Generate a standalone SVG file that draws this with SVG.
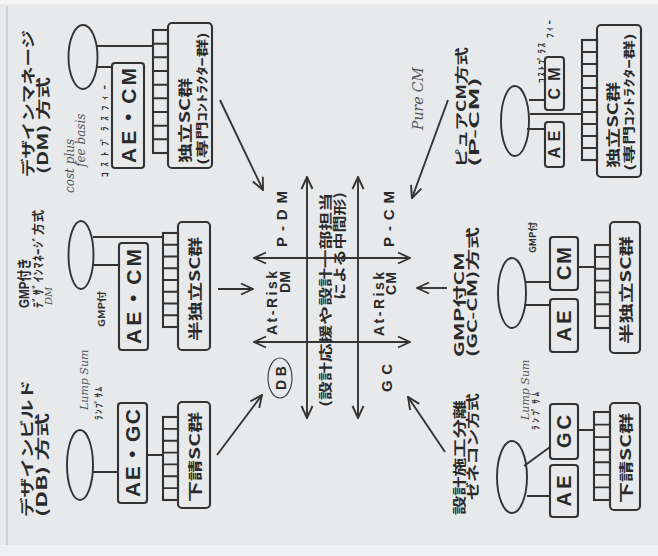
<svg xmlns="http://www.w3.org/2000/svg" width="658" height="556" viewBox="0 0 658 556">
<defs>
<style>
.ln{stroke:#333;stroke-width:1.9;fill:none}
.bx{fill:none;stroke:#333;stroke-width:2.1}
.el{fill:none;stroke:#333;stroke-width:1.9}
.t{font-family:"Noto Sans CJK JP","Noto Sans CJK SC",sans-serif;font-weight:bold;fill:#2a2a2a;dominant-baseline:central}
.l{font-family:"Liberation Sans","Noto Sans CJK JP",sans-serif;font-weight:bold;fill:#2a2a2a;dominant-baseline:central}
.s{font-family:"Noto Sans CJK JP",sans-serif;font-weight:bold;fill:#333;dominant-baseline:central;font-size:9px}
.hw{font-family:"DejaVu Serif",serif;font-style:italic;fill:#555;dominant-baseline:central}
</style>
<marker id="ah" viewBox="0 0 14 14" refX="13" refY="7" markerWidth="14" markerHeight="14" markerUnits="userSpaceOnUse" orient="auto-start-reverse">
<path d="M1 1.5 L13 7 L1 12.5" fill="none" stroke="#333" stroke-width="1.9"/>
</marker>
</defs>
<rect x="0" y="0" width="658" height="556" fill="#e7e9eb"/>
<rect x="0" y="0" width="658" height="4" fill="#f4f4f4"/>
<rect x="0" y="545" width="658" height="11" fill="#eef0f1"/>
<line x1="7" y1="6" x2="7" y2="545" stroke="#c4c6c8" stroke-width="1.5"/>

<!-- DM -->
<g id="dm">
<text class="t" font-size="14" transform="translate(27 177) rotate(-90)" textLength="147" lengthAdjust="spacingAndGlyphs">デザインマネージ</text>
<text class="t" font-size="14" transform="translate(42 174) rotate(-90)" textLength="97" lengthAdjust="spacingAndGlyphs">(DM) 方式</text>
<text class="hw" font-size="12" transform="translate(70 193) rotate(-90)">cost plus</text>
<text class="hw" font-size="12" transform="translate(81 167) rotate(-90)">fee basis</text>
<text class="s" transform="translate(104 177) rotate(-90)" textLength="92" lengthAdjust="spacing">ｺｽﾄﾌﾟﾗｽﾌｨｰ</text>
<ellipse class="el" cx="83" cy="57" rx="14.5" ry="32"/>
<path class="ln" d="M97 46H153 M96 67H112"/>
<rect class="bx" x="112" y="63" width="32" height="105" rx="3"/>
<text class="l" font-size="21" text-anchor="middle" transform="translate(128 115.5) rotate(-90)" textLength="95" lengthAdjust="spacing">AE・CM</text>
<rect class="bx" x="153" y="30" width="15" height="123"/>
<path class="ln" d="M153 43.7h15M153 57.3h15M153 71h15M153 84.7h15M153 98.3h15M153 112h15M153 125.7h15M153 139.3h15"/>
<rect class="bx" x="168" y="23" width="44" height="145" rx="4"/>
<text class="t" font-size="14" transform="translate(184 163) rotate(-90)" textLength="85" lengthAdjust="spacingAndGlyphs">独立SC群</text>
<text class="t" font-size="12" transform="translate(201 165) rotate(-90)" textLength="133" lengthAdjust="spacingAndGlyphs">(専門ｺﾝﾄﾗｸﾀｰ群)</text>
</g>

<!-- GMP DM -->
<g id="gmp-dm">
<text class="l" font-size="14" transform="translate(24 308) rotate(-90)" textLength="50" lengthAdjust="spacingAndGlyphs">GMP付き</text>
<text class="t" font-size="12" transform="translate(37 308) rotate(-90)" textLength="98" lengthAdjust="spacing">ﾃﾞｻﾞｲﾝﾏﾈｰｼﾞ方式</text>
<text class="hw" font-size="10" transform="translate(48 305) rotate(-90)">DM</text>
<ellipse class="el" cx="81" cy="255" rx="12.5" ry="34"/>
<path class="ln" d="M93 237H163 M93 265H119"/>
<text class="s" transform="translate(101 327) rotate(-90)" textLength="36" lengthAdjust="spacingAndGlyphs">GMP付</text>
<rect class="bx" x="119" y="243" width="29" height="107" rx="3"/>
<text class="l" font-size="21" text-anchor="middle" transform="translate(133.5 296.5) rotate(-90)" textLength="95" lengthAdjust="spacing">AE・CM</text>
<rect class="bx" x="163" y="233" width="15" height="94"/>
<path class="ln" d="M163 244.75h15M163 256.5h15M163 268.25h15M163 280h15M163 291.75h15M163 303.5h15M163 315.25h15"/>
<rect class="bx" x="178" y="222" width="32" height="128" rx="4"/>
<text class="t" font-size="14" transform="translate(194 341) rotate(-90)" textLength="104" lengthAdjust="spacingAndGlyphs">半独立SC群</text>
</g>

<!-- DB -->
<g id="db">
<text class="t" font-size="14" transform="translate(26 517) rotate(-90)" textLength="137" lengthAdjust="spacingAndGlyphs">デザインビルド</text>
<text class="t" font-size="14" transform="translate(41 517) rotate(-90)" textLength="104" lengthAdjust="spacingAndGlyphs">(DB) 方式</text>
<text class="hw" font-size="11" transform="translate(84 410) rotate(-90)">Lump Sum</text>
<text class="s" transform="translate(98 420) rotate(-90)" textLength="33" lengthAdjust="spacing">ﾗﾝﾌﾟｻﾑ</text>
<ellipse class="el" cx="80" cy="465" rx="13" ry="35"/>
<path class="ln" d="M93 472H118 M147 455H163"/>
<rect class="bx" x="118" y="403" width="29" height="100" rx="3"/>
<text class="l" font-size="21" text-anchor="middle" transform="translate(132.5 453) rotate(-90)" textLength="88" lengthAdjust="spacing">AE・GC</text>
<rect class="bx" x="163" y="417" width="15" height="83"/>
<path class="ln" d="M163 428.9h15M163 440.7h15M163 452.6h15M163 464.4h15M163 476.3h15M163 488.1h15"/>
<rect class="bx" x="178" y="402" width="32" height="106" rx="4"/>
<text class="t" font-size="14" transform="translate(194 502) rotate(-90)" textLength="90" lengthAdjust="spacingAndGlyphs">下請SC群</text>
</g>

<!-- center -->
<g id="center">
<text class="l" font-size="15" text-anchor="middle" transform="translate(281 219) rotate(-90)" textLength="56" lengthAdjust="spacing">P-DM</text>
<text class="l" font-size="15" text-anchor="middle" transform="translate(388 219) rotate(-90)" textLength="56" lengthAdjust="spacing">P-CM</text>
<text class="l" font-size="14" text-anchor="end" transform="translate(272 271) rotate(-90)" textLength="64" lengthAdjust="spacing">At-Risk</text>
<text class="l" font-size="14" text-anchor="end" transform="translate(285 271) rotate(-90)" textLength="22" lengthAdjust="spacing">DM</text>
<text class="l" font-size="14" text-anchor="end" transform="translate(379 272) rotate(-90)" textLength="64" lengthAdjust="spacing">At-Risk</text>
<text class="l" font-size="14" text-anchor="end" transform="translate(391 272) rotate(-90)" textLength="23" lengthAdjust="spacing">CM</text>
<ellipse cx="280" cy="378" rx="12" ry="20" fill="none" stroke="#444" stroke-width="1.2"/>
<text class="l" font-size="14" text-anchor="middle" transform="translate(281 378) rotate(-90)" textLength="24" lengthAdjust="spacing">DB</text>
<text class="l" font-size="15" text-anchor="middle" transform="translate(386 378) rotate(-90)" textLength="28" lengthAdjust="spacing">GC</text>
<text class="t" font-size="13" transform="translate(324 407) rotate(-90)" textLength="214" lengthAdjust="spacingAndGlyphs">(設計応援や設計一部担当</text>
<text class="t" font-size="13" text-anchor="end" transform="translate(338 192) rotate(-90)" textLength="108" lengthAdjust="spacingAndGlyphs">による中間形)</text>
</g>

<!-- Pure CM -->
<g id="pure-cm">
<text class="t" font-size="13" transform="translate(460 167) rotate(-90)" textLength="120" lengthAdjust="spacingAndGlyphs">ピュアCM方式</text>
<text class="t" font-size="13" transform="translate(473 167) rotate(-90)" textLength="90" lengthAdjust="spacingAndGlyphs">(P-CM)</text>
<text class="hw" font-size="14" transform="translate(418 130) rotate(-90)">Pure CM</text>
<ellipse class="el" cx="515" cy="121" rx="14" ry="35"/>
<path class="ln" d="M529 100H545 M530 114H582 M527 129H545"/>
<text class="s" transform="translate(541 83) rotate(-90)" textLength="40" lengthAdjust="spacing">ｺｽﾄﾌﾟﾗｽ</text>
<text class="s" transform="translate(549 38) rotate(-90)" textLength="18" lengthAdjust="spacing">ﾌｨｰ</text>
<rect class="bx" x="545" y="57" width="19" height="53" rx="3"/>
<text class="l" font-size="16" text-anchor="middle" transform="translate(554.5 83.5) rotate(-90)" textLength="32" lengthAdjust="spacing">CM</text>
<rect class="bx" x="545" y="122" width="19" height="45" rx="3"/>
<text class="l" font-size="16" text-anchor="middle" transform="translate(554.5 144.5) rotate(-90)" textLength="28" lengthAdjust="spacing">AE</text>
<rect class="bx" x="582" y="40" width="15" height="120"/>
<path class="ln" d="M582 52h15M582 64h15M582 76h15M582 88h15M582 100h15M582 112h15M582 124h15M582 136h15M582 148h15"/>
<rect class="bx" x="597" y="25" width="44" height="152" rx="4"/>
<text class="t" font-size="14" transform="translate(612 168) rotate(-90)" textLength="86" lengthAdjust="spacingAndGlyphs">独立SC群</text>
<text class="t" font-size="12" transform="translate(628 171) rotate(-90)" textLength="138" lengthAdjust="spacingAndGlyphs">(専門ｺﾝﾄﾗｸﾀｰ群)</text>
</g>

<!-- GMP CM -->
<g id="gmp-cm">
<text class="t" font-size="13" transform="translate(458 357) rotate(-90)" textLength="105" lengthAdjust="spacingAndGlyphs">GMP付CM</text>
<text class="t" font-size="13" transform="translate(471 357) rotate(-90)" textLength="130" lengthAdjust="spacingAndGlyphs">(GC-CM)方式</text>
<ellipse class="el" cx="512" cy="293" rx="14" ry="35"/>
<path class="ln" d="M526 282H550 M524 305H550 M578 267H595"/>
<text class="s" transform="translate(532 253) rotate(-90)" textLength="31" lengthAdjust="spacingAndGlyphs">GMP付</text>
<rect class="bx" x="550" y="237" width="28" height="53" rx="3"/>
<text class="l" font-size="20" text-anchor="middle" transform="translate(564 263.5) rotate(-90)" textLength="33" lengthAdjust="spacing">CM</text>
<rect class="bx" x="550" y="299" width="28" height="53" rx="3"/>
<text class="l" font-size="20" text-anchor="middle" transform="translate(564 326) rotate(-90)" textLength="31" lengthAdjust="spacing">AE</text>
<rect class="bx" x="595" y="245" width="15" height="83"/>
<path class="ln" d="M595 256.9h15M595 268.7h15M595 280.6h15M595 292.4h15M595 304.3h15M595 316.1h15"/>
<rect class="bx" x="610" y="222" width="30" height="131" rx="4"/>
<text class="t" font-size="14" transform="translate(625 344) rotate(-90)" textLength="108" lengthAdjust="spacingAndGlyphs">半独立SC群</text>
</g>

<!-- Sekkei Sekou Bunri -->
<g id="bunri">
<text class="t" font-size="13" transform="translate(458 515) rotate(-90)" textLength="115" lengthAdjust="spacingAndGlyphs">設計施工分離</text>
<text class="t" font-size="13" transform="translate(471 500) rotate(-90)" textLength="107" lengthAdjust="spacingAndGlyphs">ゼネコン方式</text>
<text class="hw" font-size="11" transform="translate(525 420) rotate(-90)">Lump Sum</text>
<text class="s" transform="translate(535 430) rotate(-90)" textLength="38" lengthAdjust="spacing">ﾗﾝﾌﾟｻﾑ</text>
<ellipse class="el" cx="512" cy="477" rx="15" ry="36"/>
<path class="ln" d="M524 466L550 447 M527 496H550 M578 430H594"/>
<rect class="bx" x="550" y="404" width="28" height="55" rx="3"/>
<text class="l" font-size="20" text-anchor="middle" transform="translate(564 431.5) rotate(-90)" textLength="33" lengthAdjust="spacing">GC</text>
<rect class="bx" x="550" y="465" width="28" height="52" rx="3"/>
<text class="l" font-size="20" text-anchor="middle" transform="translate(564 491) rotate(-90)" textLength="31" lengthAdjust="spacing">AE</text>
<rect class="bx" x="594" y="412" width="16" height="88"/>
<path class="ln" d="M594 424.6h16M594 437.1h16M594 449.7h16M594 462.3h16M594 474.9h16M594 487.4h16"/>
<rect class="bx" x="610" y="403" width="30" height="107" rx="4"/>
<text class="t" font-size="14" transform="translate(625 503) rotate(-90)" textLength="90" lengthAdjust="spacingAndGlyphs">下請SC群</text>
</g>

<!-- connectors -->
<g id="connectors" class="ln">
<line x1="307" y1="418" x2="307" y2="177" marker-start="url(#ah)" marker-end="url(#ah)"/>
<line x1="358" y1="418" x2="358" y2="177" marker-start="url(#ah)" marker-end="url(#ah)"/>
<line x1="254" y1="258" x2="410" y2="258" marker-start="url(#ah)" marker-end="url(#ah)"/>
<line x1="254" y1="342" x2="410" y2="342" marker-start="url(#ah)" marker-end="url(#ah)"/>
<line x1="220" y1="100" x2="263" y2="190" marker-end="url(#ah)"/>
<line x1="448" y1="100" x2="412" y2="198" marker-end="url(#ah)"/>
<line x1="218" y1="289" x2="253" y2="289" marker-end="url(#ah)"/>
<line x1="447" y1="288" x2="417" y2="288" marker-end="url(#ah)"/>
<line x1="217" y1="455" x2="262" y2="395" marker-end="url(#ah)"/>
<line x1="445" y1="452" x2="408" y2="397" marker-end="url(#ah)"/>
</g>
</svg>
